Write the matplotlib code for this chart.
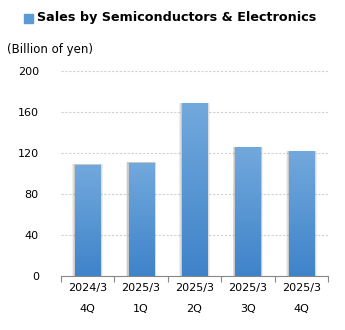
import numpy as np
import matplotlib.pyplot as plt
from matplotlib.patches import Rectangle

periods = ['2024/3', '2025/3', '2025/3', '2025/3', '2025/3']
quarters = ['4Q', '1Q', '2Q', '3Q', '4Q']
sales = [108, 110, 168, 125, 121]
yticks = [0, 40, 80, 120, 160, 200]

fig = plt.figure(figsize=(3.45, 3.3), dpi=100)
ax = fig.add_axes([61/345, 1 - 276/330, 267/345, 205/330])

x = np.arange(len(sales))
w = 0.47
grad = np.linspace(0, 1, 256).reshape(-1, 1)
cmap = plt.matplotlib.colors.LinearSegmentedColormap.from_list('b', ['#3f83c9', '#72a9dd'])
for xi, v in zip(x, sales):
    # soft shadow
    for k, a in zip([0.05, 0.035, 0.02], [0.12, 0.16, 0.22]):
        ax.add_patch(Rectangle((xi - w/2 - k, 0), w + 2*k, v + 0.8, color='gray', alpha=a, lw=0, zorder=2))
    ax.imshow(grad, extent=(xi - w/2, xi + w/2, 0, v), origin='lower', cmap=cmap,
              aspect='auto', zorder=3)

ax.set_xlim(-0.5, len(sales) - 0.5)
ax.set_ylim(0, 200)
ax.set_yticks(yticks)
ax.yaxis.grid(True, color='#d0d0d0', linestyle=(0, (2, 1.5)), linewidth=0.8)
ax.set_axisbelow(True)
for s in ['top', 'right', 'left']:
    ax.spines[s].set_visible(False)
ax.spines['bottom'].set_color('#888888')
ax.tick_params(axis='y', length=0, labelsize=8, pad=16)
ax.set_xticks(np.arange(len(sales) + 1) - 0.5)
ax.set_xticklabels([])
ax.tick_params(axis='x', length=4, color='#888888', direction='out')
for xi, p, q in zip(x, periods, quarters):
    ax.text(xi, -7, p, ha='center', va='top', fontsize=8)
    ax.text(xi, -27, q, ha='center', va='top', fontsize=8)

fig.patches.append(Rectangle((24/345, 1 - 23/330), 9/345, 9/330, color='#5b9bd5',
                             transform=fig.transFigure, figure=fig))
fig.text(37/345, 1 - 17/330, 'Sales by Semiconductors & Electronics', fontsize=9.2,
         fontweight='bold', va='center', ha='left')
fig.text(7/345, 1 - 50/330, '(Billion of yen)', fontsize=8.5, va='center', ha='left')

fig.savefig('out.png', dpi=100)
